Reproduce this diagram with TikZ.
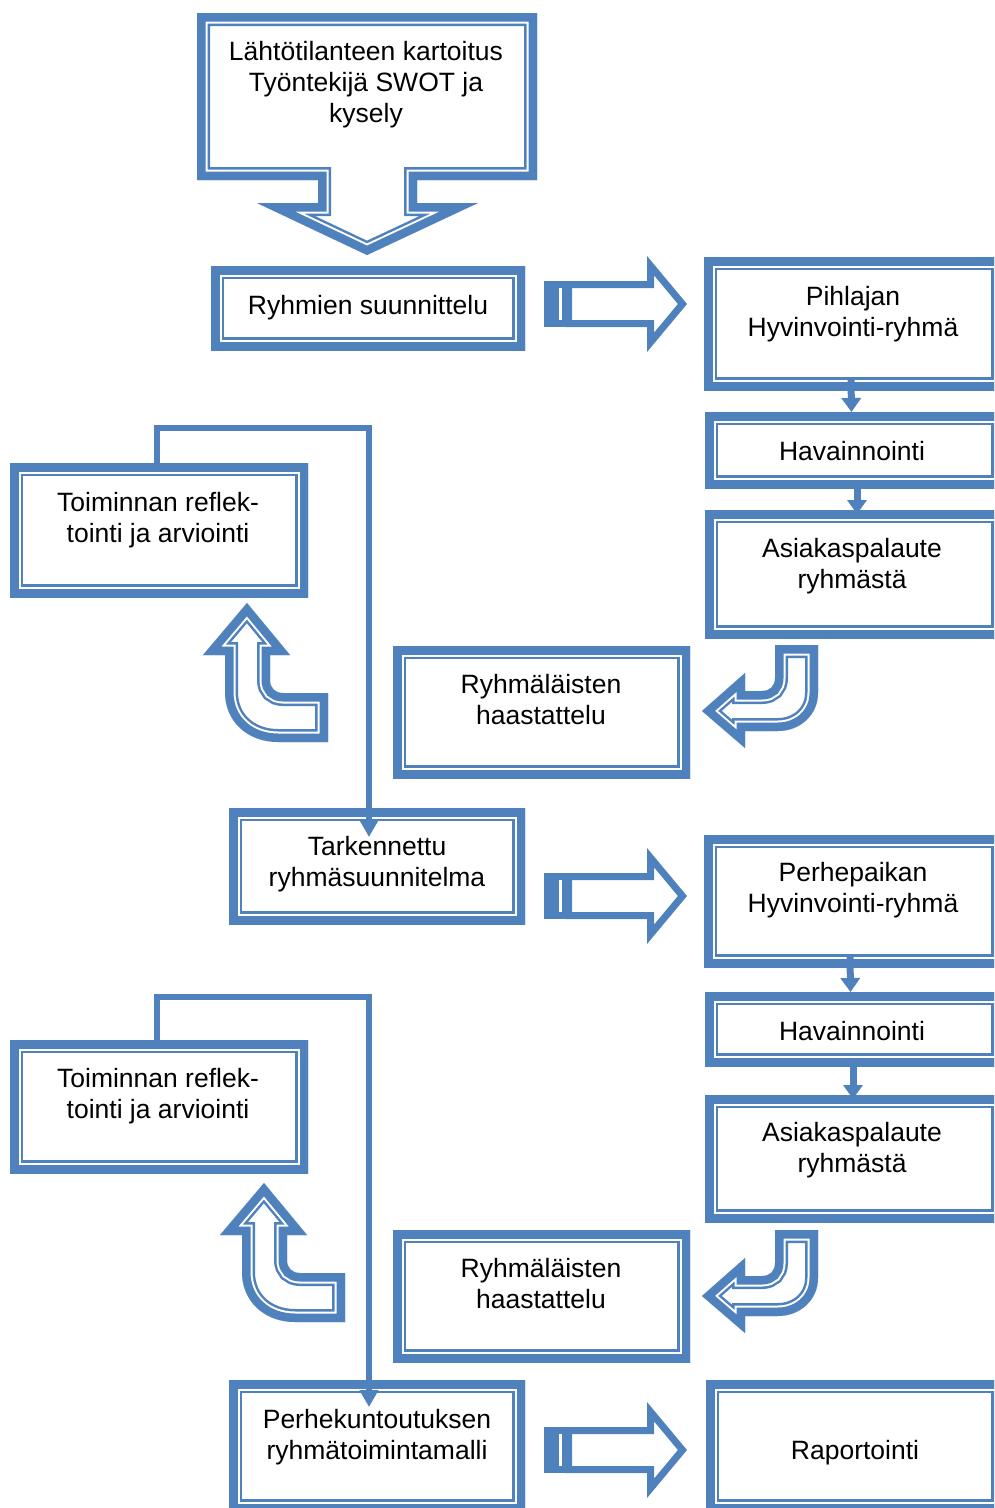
\documentclass[tikz,border=0pt]{standalone}
\usepackage{fontspec}
\setmainfont{Liberation Sans}
\usetikzlibrary{arrows.meta}
\definecolor{acc}{HTML}{4F81BD}
% double (thick outside, thin inside) border drawn inside a closed path
\newcommand\dblshape[1]{\begin{scope}\clip #1;\fill[white] #1;
  \draw[acc,line width=26pt,line join=miter] #1;
  \draw[white,line width=21pt,line join=miter] #1;
  \draw[acc,line width=17pt,line join=miter] #1;\end{scope}}
% single border drawn inside a closed path
\newcommand\sglshape[1]{\begin{scope}\clip #1;\fill[white] #1;
  \draw[acc,line width=14pt,line join=miter] #1;\end{scope}}
\begin{document}
\begin{tikzpicture}[x=1pt,y=-1pt,
  bx/.style={inner sep=0pt,outer sep=0pt},
  txt/.style={font=\fontsize{26.5pt}{31pt}\selectfont,align=center,inner sep=0pt,
    execute at begin node=\strut,execute at end node=\strut},
  sconn/.style={draw=acc,line width=7pt,-{Triangle[width=19pt,length=14pt]}},
  bigconn/.style={draw=acc,line width=6pt,line join=miter,-{Triangle[width=18pt,length=17pt]}}]
\useasboundingbox (0,0) rectangle (994,1508);
\fill[white] (0,0) rectangle (994,1508);
\clip (0,0) rectangle (994,1508);

% ---------- box nodes ----------
\node[bx,minimum width=314pt,minimum height=84pt]  (ryh)  at (368,308) {};
\node[bx,minimum width=300pt,minimum height=133pt] (pih)  at (854,323.5) {};
\node[bx,minimum width=299pt,minimum height=76pt]  (hav1) at (854.5,450) {};
\node[bx,minimum width=299pt,minimum height=128pt] (asi1) at (854.5,574) {};
\node[bx,minimum width=297pt,minimum height=132pt] (ryl1) at (541.5,712) {};
\node[bx,minimum width=298pt,minimum height=134pt] (toi1) at (159,530) {};
\node[bx,minimum width=296pt,minimum height=116pt] (tar)  at (377,866) {};
\node[bx,minimum width=300pt,minimum height=132pt] (per)  at (854,901) {};
\node[bx,minimum width=299pt,minimum height=74pt]  (hav2) at (854.5,1029) {};
\node[bx,minimum width=299pt,minimum height=127pt] (asi2) at (854.5,1158.5) {};
\node[bx,minimum width=297pt,minimum height=132pt] (ryl2) at (541.5,1296) {};
\node[bx,minimum width=298pt,minimum height=133pt] (toi2) at (159,1106.5) {};
\node[bx,minimum width=296pt,minimum height=132pt] (pk)   at (377,1446) {};
\node[bx,minimum width=298pt,minimum height=132pt] (rap)  at (855,1446) {};

% ---------- start callout (box with down arrow) ----------
\dblshape{(197,13) -- (537,13) -- (537,180) -- (417,180) -- (417,203) -- (478,203) -- (367,255) -- (257,203) -- (318,203) -- (318,180) -- (197,180) -- cycle}

% ---------- boxes ----------
\foreach \n in {ryh,pih,hav1,asi1,ryl1,toi1,tar,per,hav2,asi2,ryl2,toi2,pk,rap}{
  \dblshape{(\n.north west) rectangle (\n.south east)}
}

% ---------- striped block arrows ----------
\foreach \dy in {0,592,1146}{
  \begin{scope}[shift={(0,\dy)}]
    \sglshape{(565,281) -- (647,281) -- (647,256) -- (687,304) -- (647,352) -- (647,327) -- (565,327) -- cycle}
    \fill[acc] (544,281) rectangle (572,327);
    \fill[white] (559,288) rectangle (562,320);
  \end{scope}
}

% ---------- U-turn arrows (down, then left) ----------
\foreach \dy in {0,585}{
  \begin{scope}[shift={(0,\dy)}]
    \dblshape{(775,645) -- (818,645) -- (818,693) .. controls (818,715) and (800,731) .. (778,731) -- (745,731) -- (745,748) -- (702,711) -- (745,673) -- (745,691) -- (762,691) .. controls (770,691) and (775,686) .. (775,678) -- cycle}
  \end{scope}
}

% ---------- bent up arrows ----------
\foreach \dx/\dy in {0/0,17/580}{
  \begin{scope}[shift={(\dx,\dy)}]
    \dblshape{(247,603) -- (290,655) -- (270,655) -- (270,680) .. controls (270,688) and (275,693) .. (283,693) -- (328,693) -- (328,742) -- (278,742) .. controls (248,742) and (225,722) .. (225,692) -- (225,655) -- (203,655) -- cycle}
  \end{scope}
}

% ---------- connectors ----------
\draw[sconn] ([xshift=-3pt,yshift=12pt]pih.south) -- ([xshift=-3pt]hav1.north);
\draw[sconn] ([xshift=2.5pt,yshift=8pt]hav1.south) -- ([xshift=2.5pt,yshift=-4pt]asi1.north);
\draw[sconn] ([xshift=-4pt,yshift=12pt]per.south) -- ([xshift=-4pt]hav2.north);
\draw[sconn] ([xshift=-1.5pt,yshift=8pt]hav2.south) -- ([xshift=-1.5pt,yshift=-4pt]asi2.north);

\coordinate (k1) at (369,428);
\coordinate (e1) at (369,837);
\draw[bigconn] ([xshift=-2pt]toi1.north) |- (k1) -- (e1);
\coordinate (k2) at (369,997);
\coordinate (e2) at (369,1407);
\draw[bigconn] ([xshift=-2pt]toi2.north) |- (k2) -- (e2);

% ---------- texts ----------
\node[txt] (startt) at (366,87)    {Lähtötilanteen kartoitus\\Työntekijä SWOT ja\\kysely};
\node[txt] (ryht)   at (368,308.5) {Ryhmien suunnittelu};
\node[txt] (piht)   at (853,316)   {Pihlajan\\Hyvinvointi-ryhmä};
\node[txt] (hav1t)  at (852,454.5) {Havainnointi};
\node[txt] (asi1t)  at (852,568.5) {Asiakaspalaute\\ryhmästä};
\node[txt] (ryl1t)  at (541,704.5) {Ryhmäläisten\\haastattelu};
\node[txt] (toi1t)  at (158,522)   {Toiminnan reflek-\\tointi ja arviointi};
\node[txt] (tart)   at (377,866.5) {Tarkennettu\\ryhmäsuunnitelma};
\node[txt] (pert)   at (853,892.5) {Perhepaikan\\Hyvinvointi-ryhmä};
\node[txt] (hav2t)  at (852,1034.5) {Havainnointi};
\node[txt] (asi2t)  at (852,1152.5) {Asiakaspalaute\\ryhmästä};
\node[txt] (ryl2t)  at (541,1288.5) {Ryhmäläisten\\haastattelu};
\node[txt] (toi2t)  at (158,1098.5) {Toiminnan reflek-\\tointi ja arviointi};
\node[txt] (pkt)    at (377,1439)   {Perhekuntoutuksen\\ryhmätoimintamalli};
\node[txt] (rapt)   at (855,1453.5) {Raportointi};
\end{tikzpicture}
\end{document}
